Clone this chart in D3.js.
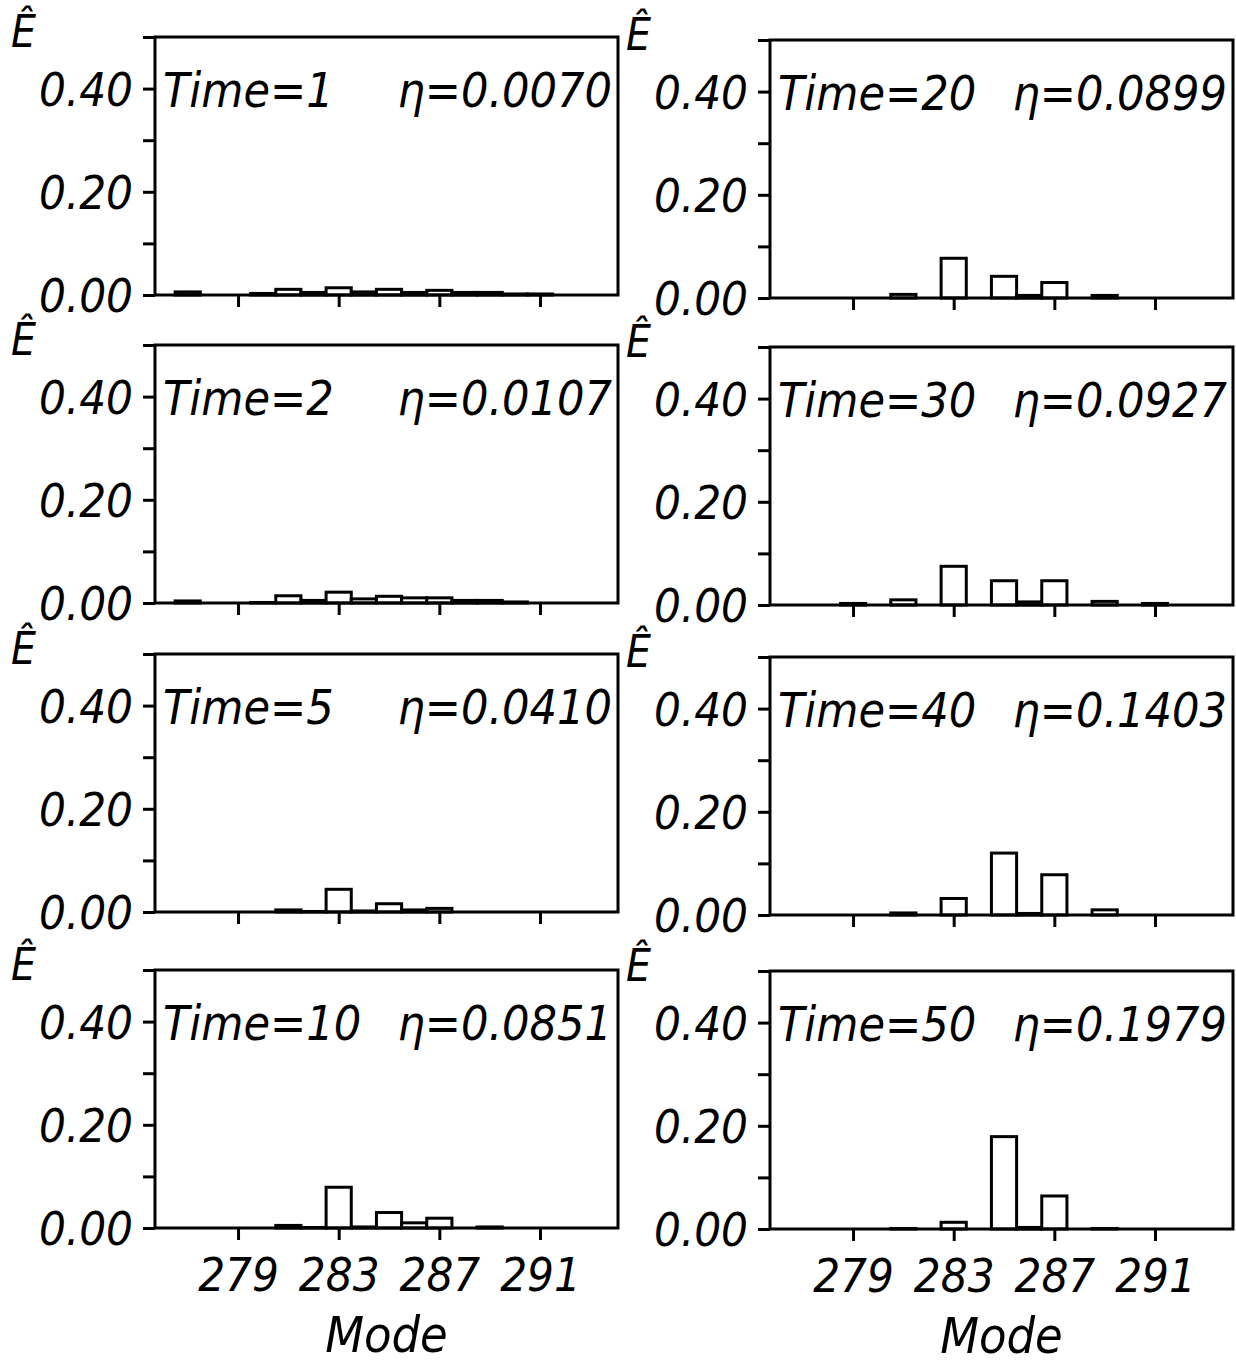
<!DOCTYPE html>
<meta charset="utf-8">
<style>
body { margin: 0; background: #fff; }
svg text {
  font-family: "DejaVu Sans Condensed", "Liberation Sans Narrow", "DejaVu Sans", sans-serif;
  font-stretch: condensed;
  font-style: italic;
  fill: #000;
}
.axis path { display: none; }
.axis line { stroke: #000; stroke-width: 3; }
.bar { fill: #fff; stroke: #000; stroke-width: 3; }
.frame { fill: none; stroke: #000; stroke-width: 3; }
</style>
<svg width="1236" height="1365"></svg>
<script src="https://d3js.org/d3.v7.min.js"></script>
<script>

// modes on the x axis
var modes = [276, 277, 278, 279, 280, 281, 282, 283, 284, 285, 286, 287, 288, 289, 290, 291, 292, 293, 294];

// energy per mode
var e1  = [0, 0.006, 0, 0, 0.003, 0.011, 0.005, 0.014, 0.006, 0.011, 0.005, 0.009, 0.005, 0.005, 0.002, 0.002, 0, 0, 0];
var e2  = [0, 0.004, 0, 0, 0.001, 0.014, 0.005, 0.021, 0.008, 0.013, 0.010, 0.010, 0.005, 0.005, 0.002, 0, 0, 0, 0];
var e5  = [0, 0, 0, 0, 0, 0.004, 0.001, 0.044, 0.002, 0.016, 0.004, 0.007, 0, 0, 0, 0, 0, 0, 0];
var e10 = [0, 0, 0, 0, 0, 0.005, 0.001, 0.079, 0.002, 0.030, 0.010, 0.019, 0, 0.002, 0, 0, 0, 0, 0];
var e20 = [0, 0, 0, 0, 0, 0.007, 0, 0.077, 0, 0.042, 0.005, 0.030, 0, 0.005, 0, 0, 0, 0, 0];
var e30 = [0, 0, 0, 0.003, 0, 0.010, 0, 0.075, 0, 0.047, 0.006, 0.047, 0, 0.007, 0, 0.003, 0, 0, 0];
var e40 = [0, 0, 0, 0, 0, 0.004, 0, 0.032, 0, 0.120, 0.003, 0.078, 0, 0.010, 0, 0, 0, 0, 0];
var e50 = [0, 0, 0, 0, 0, 0.001, 0, 0.013, 0, 0.179, 0.003, 0.064, 0, 0.001, 0, 0, 0, 0, 0];

var timeLabels = ["Time=1", "Time=2", "Time=5", "Time=10", "Time=20", "Time=30", "Time=40", "Time=50"];
var etaLabels = ["η=0.0070", "η=0.0107", "η=0.0410", "η=0.0851", "η=0.0899", "η=0.0927", "η=0.1403", "η=0.1979"];
var series = [e1, e2, e5, e10, e20, e30, e40, e50];

var yTicks = [0, 0.1, 0.2, 0.3, 0.4, 0.5];
var yLabelled = [0, 0.2, 0.4];
var xTicks = [279, 283, 287, 291];

// layout
var colX = [155, 770],
    panelW = 463,
    panelH = 258,
    baseY = [[295, 603, 912, 1228], [298, 605, 915, 1229]];

var svg = d3.select("svg");
var fmt = d3.format(".2f");

var x = d3.scaleLinear().domain([275.7, 294.1]).range([0, panelW]);
var y = d3.scaleLinear().domain([0, 0.5]).range([panelH, 0]);

series.forEach(function(vals, i) {
  var col = Math.floor(i / 4), row = i % 4;
  var g = svg.append("g")
      .attr("transform", "translate(" + colX[col] + "," + (baseY[col][row] - panelH) + ")");

  var data = modes.map(function(m, j) { return {mode: m, e: vals[j]}; })
      .filter(function(d) { return d.e > 0; });

  g.selectAll(".bar")
    .data(data)
    .enter().append("rect")
      .attr("class", "bar")
      .attr("x", function(d) { return x(d.mode - 0.5); })
      .attr("width", x(1) - x(0))
      .attr("y", function(d) { return y(d.e); })
      .attr("height", function(d) { return panelH - y(d.e); });

  g.append("rect")
      .attr("class", "frame")
      .attr("width", panelW)
      .attr("height", panelH);

  g.append("g")
      .attr("class", "axis")
      .call(d3.axisLeft(y).tickValues(yTicks).tickSize(12).tickPadding(10)
        .tickFormat(function(d) { return yLabelled.indexOf(d) >= 0 ? fmt(d) : ""; }))
    .selectAll("text")
      .attr("font-size", 47)
      .attr("dy", "0.36em");

  var xa = g.append("g")
      .attr("class", "axis")
      .attr("transform", "translate(0," + panelH + ")")
      .call(d3.axisBottom(x).tickValues(xTicks).tickSize(12).tickPadding(18)
        .tickFormat(function(d) { return row == 3 ? d : ""; }));
  xa.selectAll("text").attr("font-size", 47);

  g.append("text")
      .attr("x", -144)
      .attr("y", 10)
      .attr("font-size", 44)
      .text("Ê");

  g.append("text")
      .attr("x", 8)
      .attr("y", y(0.4) + 18)
      .attr("font-size", 48)
      .text(timeLabels[i]);

  g.append("text")
      .attr("x", panelW - 6)
      .attr("y", y(0.4) + 18)
      .attr("text-anchor", "end")
      .attr("font-size", 48)
      .text(etaLabels[i]);

  if (row == 3) {
    g.append("text")
        .attr("x", panelW / 2)
        .attr("y", panelH + 124)
        .attr("text-anchor", "middle")
        .attr("font-size", 50)
        .text("Mode");
  }
});

</script>
